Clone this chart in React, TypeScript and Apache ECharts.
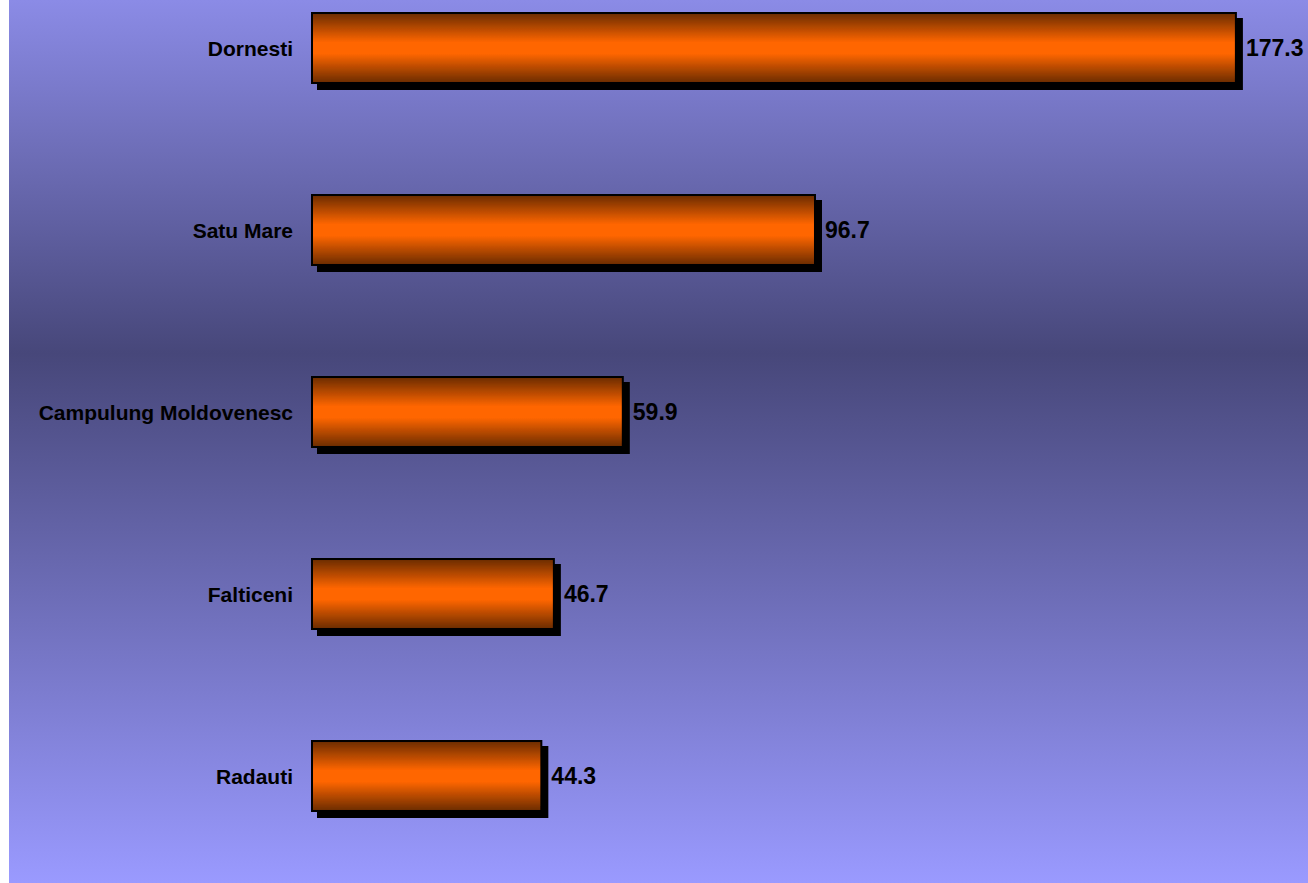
import React, { useEffect, useRef } from "react";
import * as echarts from "echarts";

const categories = ["Dornesti", "Satu Mare", "Campulung Moldovenesc", "Falticeni", "Radauti"];
const values = [177.3, 96.7, 59.9, 46.7, 44.3];

const OFFSET = 43;

export default function App() {
  const ref = useRef<HTMLDivElement>(null);
  useEffect(() => {
    const chart = echarts.init(ref.current!, null, { renderer: "svg" });
    const barGrad = new echarts.graphic.LinearGradient(0, 0, 0, 1, [
      { offset: 0, color: "#6a2b00" },
      { offset: 0.42, color: "#ff6600" },
      { offset: 0.58, color: "#ff6600" },
      { offset: 1, color: "#6a2b00" },
    ]);
    chart.setOption({
      animation: false,
      graphic: [
        {
          type: "rect",
          z: -10,
          silent: true,
          shape: { x: 9, y: OFFSET, width: 1299, height: 883 },
          style: {
            fill: new echarts.graphic.LinearGradient(0, 0, 0, 1, [
              { offset: 0, color: "#8b8be6" },
              { offset: 0.4, color: "#47477a" },
              { offset: 1, color: "#9a9aff" },
            ]),
          },
        },
      ],
      grid: { left: 311, top: 0, width: 940, height: 910 },
      xAxis: {
        type: "value",
        min: 0,
        max: 180,
        show: false,
      },
      yAxis: {
        type: "category",
        data: categories,
        inverse: true,
        axisLine: { show: false },
        axisTick: { show: false },
        splitLine: { show: false },
        axisLabel: {
          margin: 18,
          color: "#000",
          fontSize: 21,
          fontWeight: "bold",
          fontFamily: "Liberation Sans, Arial, sans-serif",
        },
      },
      series: [
        {
          type: "bar",
          data: values,
          barWidth: 72,
          itemStyle: {
            color: barGrad,
            borderColor: "#000",
            borderWidth: 2,
            shadowColor: "#000",
            shadowOffsetX: 6,
            shadowOffsetY: 6,
            shadowBlur: 0,
          },
          label: {
            show: true,
            position: "right",
            distance: 9,
            color: "#000",
            fontSize: 23,
            fontWeight: "bold",
            fontFamily: "Liberation Sans, Arial, sans-serif",
            formatter: (p: any) => p.value.toFixed(1),
          },
        },
      ],
    });
    return () => chart.dispose();
  }, []);
  return (
    <div
      ref={ref}
      style={{ position: "absolute", left: 0, top: -OFFSET, width: 1308, height: 883 + OFFSET }}
    />
  );
}
